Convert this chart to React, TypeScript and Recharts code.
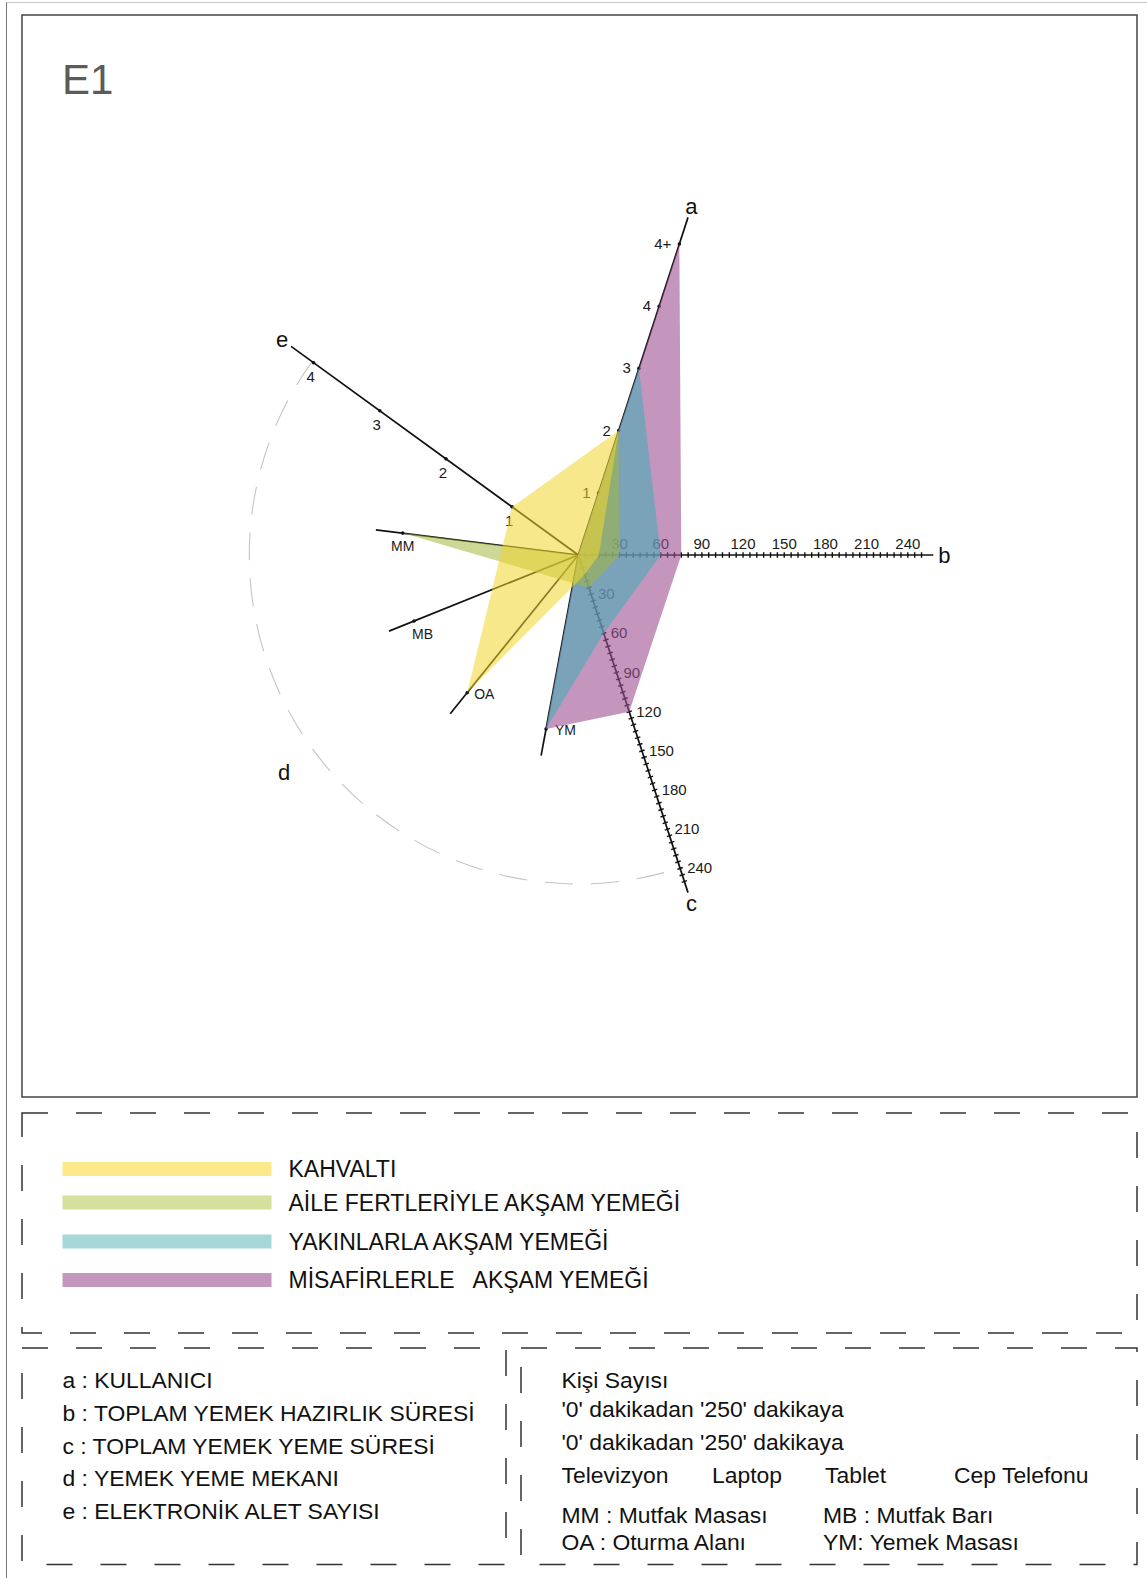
import React from "react";
import { ScatterChart, Scatter, XAxis, YAxis } from "recharts";

// one polygon per meal type
const seriesNames = [
  "KAHVALTI",
  "AİLE FERTLERİYLE AKŞAM YEMEĞİ",
  "YAKINLARLA AKŞAM YEMEĞİ",
  "MİSAFİRLERLE   AKŞAM YEMEĞİ",
];
const kullanici = [2, 2, 3, 5]; // a : kişi sayısı (5 = "4+")
const hazirlikSuresi = [15, 30, 60, 75]; // b : dakika
const yemeSuresi = [15, 25, 60, 120]; // c : dakika
const mekan = ["OA", "MM", "YM", "YM"]; // d
const aletSayisi = [1, 0, 0, 0]; // e

const legendColors = ["#fbe98c", "#d4e09b", "#a6d8da", "#c496bd"];
const fillColors = ["#f2d52e", "#a4b640", "#4aacb6", "#9d5093"];
const fillOpacity = [0.55, 0.55, 0.6, 0.6];

// axis tick labels
const aTickLabels = ["1", "2", "3", "4", "4+"];
const minuteTicks = [30, 60, 90, 120, 150, 180, 210, 240];
const eTickLabels = ["1", "2", "3", "4"];
const mekanlar = ["MM", "MB", "OA", "YM"];
const axisLetters = ["a", "b", "c", "d", "e"];

const aciklamalar = [
  "a : KULLANICI",
  "b : TOPLAM YEMEK HAZIRLIK SÜRESİ",
  "c : TOPLAM YEMEK YEME SÜRESİ",
  "d : YEMEK YEME MEKANI",
  "e : ELEKTRONİK ALET SAYISI",
];

const FONT = "'Liberation Sans', Arial, Helvetica, sans-serif";

// geometry of the star (plane units = px)
const ANG = { a: 72, b: 0, c: -72, d: 216.5, e: 144 };
const D_ANGLES = [172.9, 201.9, 231.1, 259.5];
const A_UNIT = 65.4;
const E_UNIT = 81.8;
const MIN_UNIT = 1.373;
const AXIS_LEN = 355;
const LETTER_R = 366;
const ARC_R = 329;
const D_DOT = 177;
const D_END = 204;
const MINOR_STEP = 5;
const MINOR_MAX = 250;

const CHART_W = 1115;
const CHART_H = 1082;
const CX = 556.3;
const CY = 540;

const rad = (d: number) => (d * Math.PI) / 180;
const polar = (deg: number, r: number) => ({
  x: r * Math.cos(rad(deg)),
  y: r * Math.sin(rad(deg)),
});

const minorTicks: number[] = [];
for (let m = MINOR_STEP; m <= MINOR_MAX; m += MINOR_STEP) minorTicks.push(m);

const polygons = seriesNames.map((name, i) => ({
  name,
  points: [
    polar(ANG.a, kullanici[i] * A_UNIT),
    polar(ANG.b, hazirlikSuresi[i] * MIN_UNIT),
    polar(ANG.c, yemeSuresi[i] * MIN_UNIT),
    polar(D_ANGLES[mekanlar.indexOf(mekan[i])], D_DOT),
    polar(ANG.e, aletSayisi[i] * E_UNIT),
  ],
}));

const mainAxes = [ANG.a, ANG.b, ANG.c, ANG.e].map((deg) => [
  polar(deg, 0),
  polar(deg, AXIS_LEN),
]);
const dSpokes = D_ANGLES.map((deg) => [polar(deg, 0), polar(deg, D_END)]);
const arcPoints = [polar(ANG.e, ARC_R), polar(ANG.c, ARC_R), polar(0, 0)];

const aTicks = aTickLabels.map((label, i) => ({ ...polar(ANG.a, (i + 1) * A_UNIT), label }));
const eTicks = eTickLabels.map((label, i) => ({ ...polar(ANG.e, (i + 1) * E_UNIT), label }));
const bLabels = minuteTicks.map((m) => ({ ...polar(ANG.b, m * MIN_UNIT), label: String(m) }));
const cLabels = minuteTicks.map((m) => ({ ...polar(ANG.c, m * MIN_UNIT), label: String(m) }));
const bMinor = minorTicks.map((m) => polar(ANG.b, m * MIN_UNIT));
const cMinor = minorTicks.map((m) => polar(ANG.c, m * MIN_UNIT));
const dDots = mekanlar.map((label, i) => ({ ...polar(D_ANGLES[i], D_DOT), label }));
const letters = axisLetters.map((label) => ({
  ...polar(ANG[label as keyof typeof ANG], LETTER_R),
  label,
}));

// label offsets for the d spokes
const dLabelPos: Record<string, { dx: number; dy: number; anchor: string }> = {
  MM: { dx: 0, dy: 18, anchor: "middle" },
  MB: { dx: -2, dy: 18, anchor: "start" },
  OA: { dx: 7, dy: 6, anchor: "start" },
  YM: { dx: 9, dy: 6, anchor: "start" },
};

const hidden = () => <g />;
const dot = (props: any) => <circle cx={props.cx} cy={props.cy} r={1.8} fill="#111" />;

const tickMark = (deg: number) => (props: any) => {
  const px = Math.sin(rad(deg)) * 2.8;
  const py = Math.cos(rad(deg)) * 2.8;
  return (
    <line
      x1={props.cx - px}
      y1={props.cy - py}
      x2={props.cx + px}
      y2={props.cy + py}
      stroke="#111"
      strokeWidth={1.4}
    />
  );
};

const textShape =
  (dx: number, dy: number, anchor: string, size: number) => (props: any) => (
    <text
      x={props.cx + dx}
      y={props.cy + dy}
      textAnchor={anchor as any}
      fontSize={size}
      fill="#1a1a1a"
      fontFamily={FONT}
    >
      {props.payload.label}
    </text>
  );

const dLabelShape = (props: any) => {
  const p = dLabelPos[props.payload.label];
  return (
    <text
      x={props.cx + p.dx}
      y={props.cy + p.dy}
      textAnchor={p.anchor as any}
      fontSize={14}
      fill="#1a1a1a"
      fontFamily={FONT}
    >
      {props.payload.label}
    </text>
  );
};

const letterShape = (props: any) => (
  <text
    x={props.cx}
    y={props.cy}
    textAnchor="middle"
    dominantBaseline="central"
    fontSize={22}
    fill="#111"
    fontFamily={FONT}
  >
    {props.payload.label}
  </text>
);

const strokeLine = (props: any) => (
  <polyline
    points={props.points.map((p: any) => `${p.x},${p.y}`).join(" ")}
    fill="none"
    stroke="#111"
    strokeWidth={1.7}
  />
);

const arcLine = (props: any) => {
  const [s, e, c] = props.points;
  const r = Math.hypot(s.x - c.x, s.y - c.y);
  return (
    <path
      d={`M${s.x},${s.y} A${r},${r} 0 0 0 ${e.x},${e.y}`}
      fill="none"
      stroke="#c4c4c4"
      strokeWidth={1.1}
      strokeDasharray="28 18"
    />
  );
};

const polygonLine = (fill: string, opacity: number) => (props: any) => (
  <polygon
    points={props.points.map((p: any) => `${p.x},${p.y}`).join(" ")}
    fill={fill}
    fillOpacity={opacity}
    stroke="none"
  />
);

const legendRows = [1169, 1202.5, 1241.5, 1280];
const leftRows = [1388, 1421, 1454, 1486, 1519];

export default function App() {
  const drawOrder = [3, 2, 1, 0];
  return (
    <div
      style={{
        position: "absolute",
        left: 0,
        top: 0,
        width: 1147,
        height: 1578,
        background: "#fff",
        fontFamily: FONT,
      }}
    >
      <svg width={1147} height={1578} style={{ position: "absolute", left: 0, top: 0 }}>
        <line x1={6.5} y1={2.5} x2={1147} y2={2.5} stroke="#c8c8c8" />
        <line x1={6.5} y1={2.5} x2={6.5} y2={1578} stroke="#777" />
        <rect x={22} y={15} width={1115} height={1082} fill="none" stroke="#444" strokeWidth={1.5} />
        <text x={62} y={94} fontSize={42} fill="#5b5b5b" fontFamily={FONT}>
          E1
        </text>

        <rect
          x={22}
          y={1113}
          width={1115}
          height={220}
          fill="none"
          stroke="#333"
          strokeWidth={1.5}
          strokeDasharray="26 28"
        />
        {seriesNames.map((name, i) => (
          <g key={name}>
            <rect x={62.5} y={legendRows[i] - 7} width={209} height={14} fill={legendColors[i]} />
            <text
              x={288.5}
              y={legendRows[i] + 8.2}
              fontSize={23}
              fill="#111"
              fontFamily={FONT}
              style={{ whiteSpace: "pre" }}
            >
              {name}
            </text>
          </g>
        ))}

        <rect
          x={22}
          y={1348}
          width={484}
          height={216.5}
          fill="none"
          stroke="#333"
          strokeWidth={1.5}
          strokeDasharray="26 28"
        />
        {aciklamalar.map((t, i) => (
          <text key={t} x={62.5} y={leftRows[i]} fontSize={22.9} fill="#111" fontFamily={FONT}>
            {t}
          </text>
        ))}

        <rect
          x={521}
          y={1348}
          width={616}
          height={216.5}
          fill="none"
          stroke="#333"
          strokeWidth={1.5}
          strokeDasharray="26 28"
        />
        <g fontSize={22.9} fill="#111" fontFamily={FONT}>
          <text x={561.5} y={1388}>Kişi Sayısı</text>
          <text x={561.5} y={1417}>'0' dakikadan '250' dakikaya</text>
          <text x={561.5} y={1450}>'0' dakikadan '250' dakikaya</text>
          <text x={561.5} y={1483}>Televizyon</text>
          <text x={712} y={1483}>Laptop</text>
          <text x={825} y={1483}>Tablet</text>
          <text x={954} y={1483}>Cep Telefonu</text>
          <text x={561.5} y={1523}>MM : Mutfak Masası</text>
          <text x={823} y={1523}>MB : Mutfak Barı</text>
          <text x={561.5} y={1550}>OA : Oturma Alanı</text>
          <text x={823} y={1550}>YM: Yemek Masası</text>
        </g>
      </svg>

      <div style={{ position: "absolute", left: 22, top: 15 }}>
        <ScatterChart
          width={CHART_W}
          height={CHART_H}
          margin={{ top: 0, right: 0, bottom: 0, left: 0 }}
        >
          <XAxis
            type="number"
            dataKey="x"
            domain={[-CX, CHART_W - CX]}
            allowDataOverflow
            hide
          />
          <YAxis
            type="number"
            dataKey="y"
            domain={[-(CHART_H - CY), CY]}
            allowDataOverflow
            hide
          />

          <Scatter data={arcPoints} line={arcLine} shape={hidden} isAnimationActive={false} />

          {mainAxes.map((pts, i) => (
            <Scatter
              key={`axis-${i}`}
              data={pts}
              line={strokeLine}
              shape={hidden}
              isAnimationActive={false}
            />
          ))}
          {dSpokes.map((pts, i) => (
            <Scatter
              key={`spoke-${i}`}
              data={pts}
              line={strokeLine}
              shape={hidden}
              isAnimationActive={false}
            />
          ))}

          <Scatter data={bMinor} shape={tickMark(ANG.b)} isAnimationActive={false} />
          <Scatter data={cMinor} shape={tickMark(ANG.c)} isAnimationActive={false} />
          <Scatter data={aTicks} shape={dot} isAnimationActive={false} />
          <Scatter data={eTicks} shape={dot} isAnimationActive={false} />
          <Scatter data={dDots} shape={dot} isAnimationActive={false} />

          <Scatter data={aTicks} shape={textShape(-8, 5, "end", 15)} isAnimationActive={false} />
          <Scatter data={eTicks} shape={textShape(-3, 19, "middle", 15)} isAnimationActive={false} />
          <Scatter data={bLabels} shape={textShape(0, -6, "middle", 15)} isAnimationActive={false} />
          <Scatter data={cLabels} shape={textShape(7, 5, "start", 15)} isAnimationActive={false} />
          <Scatter data={dDots} shape={dLabelShape} isAnimationActive={false} />

          {drawOrder.map((i) => (
            <Scatter
              key={polygons[i].name}
              name={polygons[i].name}
              data={polygons[i].points}
              line={polygonLine(fillColors[i], fillOpacity[i])}
              shape={hidden}
              isAnimationActive={false}
            />
          ))}

          <Scatter data={letters} shape={letterShape} isAnimationActive={false} />
        </ScatterChart>
      </div>
    </div>
  );
}
